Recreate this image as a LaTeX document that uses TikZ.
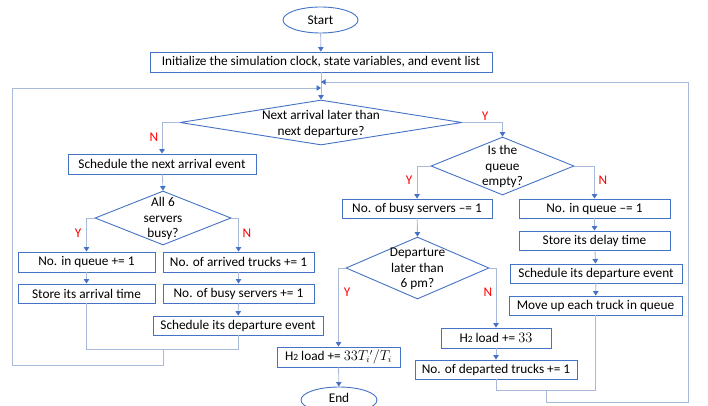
\documentclass[tikz,border=0pt]{standalone}
\usepackage{fontspec}
\setmainfont{Carlito}
\usetikzlibrary{shapes.geometric,arrows.meta}
\definecolor{boxblue}{HTML}{4472C4}
\definecolor{linecol}{HTML}{A9B9DA}
\definecolor{yncol}{HTML}{FF0000}
\newcommand{\subtwo}{{\fontsize{9.5}{9.5}\selectfont 2}}
\tikzset{
  box/.style={draw=boxblue, line width=0.9pt, inner sep=0pt, fill=white, text=black},
  dia/.style={diamond, draw=boxblue, line width=0.9pt, inner sep=0pt},
  oval/.style={ellipse, draw=boxblue, line width=0.9pt, inner sep=0pt, fill=white},
  dtext/.style={align=center, inner sep=0pt, font=\fontsize{13.3}{15.5}\selectfont},
  conn/.style={draw=linecol, line width=0.9pt},
  arr/.style={conn, -{Triangle[length=4.5pt,width=5.5pt,color=boxblue]}},
  yn/.style={text=yncol, inner sep=0pt}
}
\begin{document}
\begin{tikzpicture}[x=1pt,y=-1pt,font=\fontsize{13.3}{15.5}\selectfont]
\path[use as bounding box] (0,0) rectangle (708,406);
\clip (0,0) rectangle (708,406);
% nodes
\node[oval, minimum width=75pt, minimum height=26pt] (start) at (320.5,20) {Start};
\node[box, minimum width=342pt, minimum height=20pt] (init) at (321,62) {Initialize the simulation clock, state variables, and event list};
\node[dia, minimum width=282pt, minimum height=45pt] (dmain) at (321,122.5) {};
\node[dtext] (dmaint) at (321,124) {Next arrival later than\\next departure?};
\node[box, minimum width=188pt, minimum height=20pt] (sched) at (162,164) {Schedule the next arrival event};
\node[dia, minimum width=136pt, minimum height=54pt] (d6) at (163,218) {};
\node[dtext] (d6t) at (163,218.5) {All 6\\servers\\busy?};
\node[box, minimum width=137pt, minimum height=20pt] (q1) at (86.5,262) {No. in queue += 1};
\node[box, minimum width=151pt, minimum height=20pt] (arr1) at (238.5,262) {No. of arrived trucks += 1};
\node[box, minimum width=137pt, minimum height=19pt] (store) at (86.5,293.5) {Store its arrival time};
\node[box, minimum width=151pt, minimum height=19pt] (busy1) at (238.5,293.5) {No. of busy servers += 1};
\node[box, minimum width=170pt, minimum height=19pt] (sdepL) at (238,325.5) {Schedule its departure event};
\node[dia, minimum width=143pt, minimum height=58pt] (dq) at (502.5,166) {};
\node[dtext] (dqt) at (502.5,166.5) {Is the\\queue\\empty?};
\node[box, minimum width=150pt, minimum height=19pt] (busy2) at (417,208.5) {No. of busy servers \textendash= 1};
\node[box, minimum width=151pt, minimum height=19pt] (q2) at (594.5,208.5) {No. in queue \textendash= 1};
\node[box, minimum width=151pt, minimum height=19pt] (delay) at (594.5,240.5) {Store its delay time};
\node[box, minimum width=172pt, minimum height=19pt] (sdepR) at (596,273.5) {Schedule its departure event};
\node[box, minimum width=173pt, minimum height=19pt] (move) at (595.5,305.5) {Move up each truck in queue};
\node[dia, minimum width=143pt, minimum height=62pt] (d6pm) at (417.5,268) {};
\node[dtext] (d6pmt) at (417.5,269) {Departure\\later than\\6 pm?};
\node[box, minimum width=123pt, minimum height=20pt] (h2a) at (338.5,357) {H\subtwo{} load += $33T_i{}'/T_i$};
\node[oval, minimum width=76pt, minimum height=26pt, text depth=5pt] (end) at (339,400) {End};
\node[box, minimum width=110pt, minimum height=20pt] (h2b) at (496,338) {H\subtwo{} load += $33$};
\node[box, minimum width=162pt, minimum height=19pt] (dep) at (496,369.5) {No. of departed trucks += 1};
% coordinates
\coordinate (m1) at (321,82);
\coordinate (m2) at (321,88);
\coordinate (rj) at (546,390);
\coordinate (rjd) at (546,402);
\coordinate (rjr) at (688,402);
\coordinate (rjt) at (688,82);
\coordinate (lj) at (163,349);
\coordinate (ljd) at (163,365);
\coordinate (ljl) at (12,365);
\coordinate (ljt) at (12,88);
% connectors
\draw[arr] (start) -- (init);
\draw[arr] (init) -- (dmain.north);
\draw[conn] (dep.south) -- (dep.south |- rj) -- (move.south |- rj) -- (move.south);
\draw[arr] (rj) -- (rjd) -- (rjr) -- (rjt) -- (m1);
\draw[conn] (store.south) -- (store.south |- lj) -- (sdepL.south |- lj) -- (sdepL.south);
\draw[arr] (lj) -- (ljd) -- (ljl) -- (ljt) -- (m2);
\draw[arr] (dmain.west) -| (sched.north);
\draw[arr] (dmain.east) -| (dq.north);
\draw[arr] (sched) -- (d6.north);
\draw[arr] (d6.west) -| (q1.north);
\draw[arr] (d6.east) -| (arr1.north);
\draw[arr] (q1) -- (store);
\draw[arr] (arr1) -- (busy1);
\draw[arr] (busy1) -- (sdepL);
\draw[arr] (dq.west) -| (busy2.north);
\draw[arr] (dq.east) -| (q2.north);
\draw[arr] (q2) -- (delay);
\draw[arr] (delay) -- (sdepR);
\draw[arr] (sdepR) -- (move);
\draw[arr] (busy2) -- (d6pm.north);
\draw[arr] (d6pm.west) -| (h2a.north);
\draw[arr] (d6pm.east) -| (h2b.north);
\draw[arr] (h2a) -- (end);
\draw[arr] (h2b) -- (dep);
% labels
\node[yn] (lN1) at (154,137) {N};
\node[yn] (lY1) at (485,116) {Y};
\node[yn] (lY2) at (78,233) {Y};
\node[yn] (lN2) at (247,233) {N};
\node[yn] (lY3) at (409,180) {Y};
\node[yn] (lN3) at (603,180) {N};
\node[yn] (lY4) at (347,292) {Y};
\node[yn] (lN4) at (488,292) {N};
\end{tikzpicture}
\end{document}
